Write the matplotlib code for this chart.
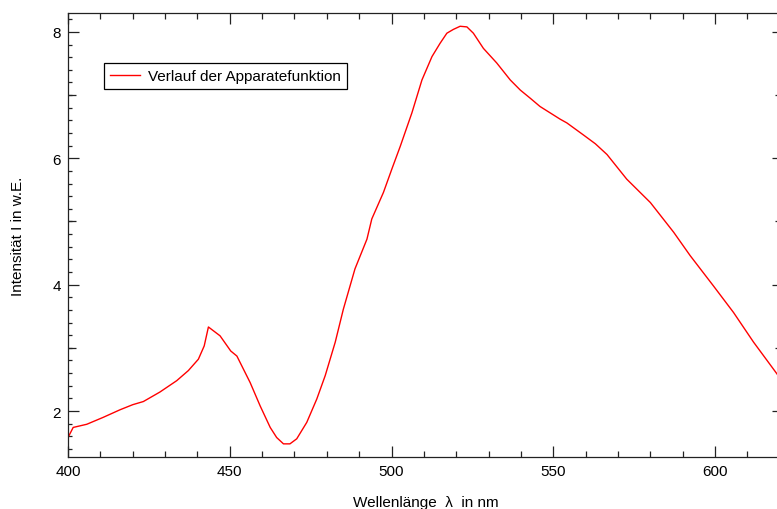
import matplotlib
matplotlib.use("Agg")
import matplotlib.pyplot as plt
from matplotlib.ticker import MultipleLocator, FixedLocator, NullFormatter

plt.rcParams['font.family'] = ['Liberation Sans', 'DejaVu Sans']
plt.rcParams['font.size'] = 11

# Data (wavelength in nm, intensity in w.E.)
wavelength = [400.0, 400.5, 401.6, 405.8, 410.9, 416.1, 420.0, 423.3, 428.4, 433.6,
              437.2, 440.3, 442.1, 443.4, 447.0, 450.3, 452.2, 456.3, 459.4, 462.5,
              464.5, 466.6, 468.6, 470.7, 473.8, 476.9, 479.5, 482.6, 485.1, 488.7,
              492.4, 493.9, 497.5, 500.1, 502.7, 506.3, 509.4, 512.5, 515.0, 517.1,
              519.1, 521.2, 523.3, 525.3, 528.4, 532.5, 536.7, 539.8, 542.9, 545.9,
              549.0, 552.1, 554.2, 559.3, 563.0, 566.6, 572.7, 580.0, 587.2, 592.3,
              599.5, 605.7, 611.9, 619.1, 621.0]
intensity = [1.58, 1.63, 1.74, 1.79, 1.90, 2.02, 2.10, 2.15, 2.30, 2.48,
             2.64, 2.82, 3.03, 3.33, 3.19, 2.95, 2.87, 2.45, 2.08, 1.74,
             1.58, 1.48, 1.48, 1.56, 1.82, 2.19, 2.56, 3.09, 3.61, 4.25,
             4.72, 5.04, 5.46, 5.83, 6.19, 6.72, 7.24, 7.61, 7.82, 7.98,
             8.04, 8.09, 8.08, 7.98, 7.74, 7.51, 7.24, 7.08, 6.95, 6.82,
             6.72, 6.62, 6.56, 6.37, 6.23, 6.06, 5.67, 5.30, 4.83, 4.46,
             3.98, 3.56, 3.09, 2.59, 2.45]

series_label = "Verlauf der Apparatefunktion"
x_label = "Wellenlänge  λ  in nm"
y_label = "Intensität I in w.E."

W, H = 777, 510
fig = plt.figure(figsize=(W / 100, H / 100), dpi=100)
left_px, right_px, top_px, bottom_px = 68, 783, 14, 458
ax = fig.add_axes([left_px / W, 1 - bottom_px / H,
                   (right_px - left_px) / W, (bottom_px - top_px) / H])

ax.plot(wavelength, intensity, color='#ff0000', lw=1.0, label=series_label)

ax.set_xlim(400, 621)
ax.set_ylim(1.272, 8.30)

ink = '#222222'
for s in ax.spines.values():
    s.set_color(ink)
    s.set_linewidth(0.9)
ax.spines['right'].set_visible(False)

ax.xaxis.set_major_locator(MultipleLocator(50))
ax.xaxis.set_minor_locator(MultipleLocator(10))
ax.yaxis.set_major_locator(MultipleLocator(2))
ax.yaxis.set_minor_locator(MultipleLocator(0.2))

ax.tick_params(axis='x', which='major', direction='in', length=8, width=0.9,
               color=ink, top=True, bottom=True, pad=5, labelcolor='black',
               labelsize=11)
ax.tick_params(axis='x', which='minor', direction='in', length=4.2, width=0.9,
               color=ink, top=True, bottom=True)
ax.tick_params(axis='y', which='major', direction='in', length=7.7, width=0.9,
               color=ink, left=True, right=True, pad=5, labelcolor='black',
               labelsize=11)
ax.tick_params(axis='y', which='minor', direction='in', length=3.1, width=0.9,
               color=ink, left=True, right=True)

# medium ticks at odd integers
for side in ('left', 'right'):
    sec = ax.secondary_yaxis(side)
    sec.yaxis.set_major_locator(FixedLocator([1, 3, 5, 7]))
    sec.yaxis.set_minor_locator(FixedLocator([]))
    sec.yaxis.set_major_formatter(NullFormatter())
    sec.tick_params(which='major', direction='in', length=5.5, width=0.9, color=ink)
    for s in sec.spines.values():
        s.set_visible(False)

leg = ax.legend(loc='upper left', bbox_to_anchor=((104 - left_px) / (right_px - left_px),
                                                   (bottom_px - 64) / (bottom_px - top_px)),
                borderaxespad=0, fancybox=False, framealpha=1, edgecolor='black',
                handlelength=1.95, handletextpad=0.55, borderpad=0.4, fontsize=11)
leg.get_frame().set_linewidth(0.9)

fig.text(426 / W, 1 - 503 / H, x_label, ha='center', va='center', fontsize=11)
fig.text(18 / W, 1 - 236 / H, y_label, ha='center', va='center', rotation=90, fontsize=11)

fig.savefig("out.png", dpi=100)
